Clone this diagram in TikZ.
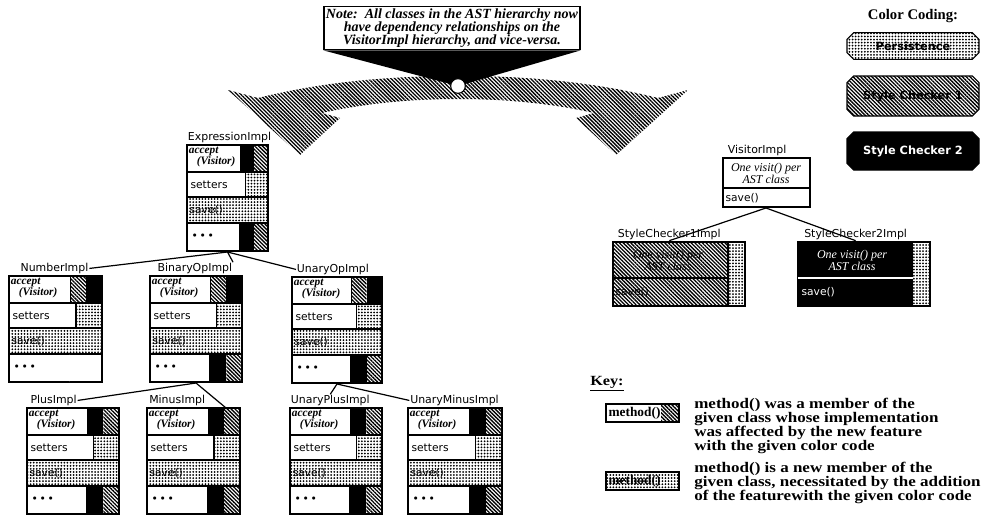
\documentclass[tikz,border=0pt]{standalone}
\usepackage{fontspec}
\setmainfont{Liberation Serif}
\setsansfont{DejaVu Sans}
\newfontfamily\keyfont{Liberation Serif}[FakeStretch=1.16]
\usetikzlibrary{patterns.meta, positioning, shapes.misc}
\tikzstyle{classlabel} = [font=\sffamily\fontsize{8.2}{9}\selectfont, inner sep=0.5pt]
\tikzstyle{rowtext} = [font=\sffamily\fontsize{8}{9}\selectfont, inner sep=1pt, anchor=west]
\tikzstyle{accepttext} = [font=\bfseries\itshape\fontsize{8.5}{8.5}\selectfont, align=left, inner sep=0.5pt, anchor=north west]
\tikzstyle{visittext} = [font=\itshape\fontsize{9}{9}\selectfont, align=center, inner sep=0pt]
\tikzstyle{persist} = [pattern={Dots[radius=0.75pt, distance=2.3pt]}]
\tikzstyle{scone} = [pattern={Lines[angle=-45, distance=2pt, line width=1pt]}]
\tikzstyle{sctwo} = [fill=black]
\tikzstyle{plain} = [fill=white, draw=none]
\tikzstyle{boxline} = [line width=0.9pt]
\tikzstyle{edge} = [line width=0.9pt]
\tikzstyle{badge} = [chamfered rectangle, chamfered rectangle sep=2.5pt, draw, line width=0.8pt,
  minimum width=99pt, font=\sffamily\bfseries\fontsize{8.5}{9}\selectfont]
\tikzstyle{keytext} = [font=\keyfont\bfseries\fontsize{11}{10.5}\selectfont, align=left, anchor=north west, inner sep=0pt]

% one class of the AST hierarchy: id, x, y, width, accept patches, ... patches
\newcommand{\classbox}[8]{%
  \begin{scope}[shift={(#2,#3)}]
    \fill[#5] ({0.66*#4},0) rectangle ({0.83*#4},27);
    \fill[#6] ({0.83*#4},0) rectangle (#4,27);
    \fill[persist] ({0.72*#4},27) rectangle (#4,52);
    \fill[persist] (0,52) rectangle (#4,78);
    \fill[#7] ({0.65*#4},78) rectangle ({0.83*#4},106);
    \fill[#8] ({0.83*#4},78) rectangle (#4,106);
    \draw[boxline] (0,0) rectangle (#4,106);
    \draw[boxline] (0,27) -- (#4,27) (0,52) -- (#4,52) (0,78) -- (#4,78);
    \draw[boxline] ({0.66*#4},0) -- ({0.66*#4},27) ({0.72*#4},27) -- ({0.72*#4},52);
    \draw[boxline, #7] ({0.65*#4},78) -- ({0.65*#4},106);
    \node[accepttext] (#1-accept) at (1,1) {accept\\\hspace{6pt}(Visitor)};
    \node[rowtext] (#1-setters) at (2,40) {setters};
    \node[rowtext] (#1-save) at (1,65) {save()};
    \node[rowtext] (#1-more) at (3,92) {\textbullet\,\textbullet\,\textbullet};
    \coordinate (#1-nw) at (0,0);
    \coordinate (#1-top) at ({0.85*#4},0);
    \coordinate (#1-s) at ({0.5*#4},107);
  \end{scope}}

\begin{document}
\begin{tikzpicture}[x=0.75pt, y=-0.75pt]
  \useasboundingbox (0,0) rectangle (985,521);

  % the two-way dependency arrow
  \fill[scone] (228,90) -- (258,98) .. controls (330,80) and (400,76) .. (458,76)
    .. controls (516,76) and (586,80) .. (658,98) -- (688,90) -- (616,155) -- (576,118)
    -- (594,113) .. controls (546,102) and (496,99) .. (458,99)
    .. controls (420,99) and (370,102) .. (322,113) -- (340,118) -- (300,155) -- cycle;
  \node[draw, line width=1pt, fill=white, inner sep=1.5pt, align=center,
    font=\bfseries\itshape\fontsize{10.5}{10}\selectfont] (note) at (452,28)
    {Note:\ \ All classes in the AST hierarchy now\\have dependency relationships on the\\VisitorImpl hierarchy, and vice-versa.};
  \coordinate (hubpt) at (458,86);
  \fill (note.south west) -- (note.south east) -- (hubpt) -- cycle;
  \node[circle, draw, fill=white, line width=0.8pt, minimum size=11pt, inner sep=0pt] (hub) at (hubpt) {};

  % AST hierarchy
  \classbox{expr}{187}{145}{81}{sctwo}{scone}{sctwo}{scone}
  \classbox{number}{9}{276}{93}{scone}{sctwo}{plain}{plain}
  \classbox{binop}{150}{276}{92}{scone}{sctwo}{sctwo}{scone}
  \classbox{unop}{292}{277}{90}{scone}{sctwo}{sctwo}{scone}
  \classbox{plus}{27}{408}{92}{sctwo}{scone}{sctwo}{scone}
  \classbox{minus}{147}{408}{93}{sctwo}{scone}{sctwo}{scone}
  \classbox{uplus}{290}{408}{92}{sctwo}{scone}{sctwo}{scone}
  \classbox{uminus}{408}{408}{94}{sctwo}{scone}{sctwo}{scone}

  \node[classlabel, above right=1pt and 0pt of expr-nw] (expr-label) {ExpressionImpl};
  \node[classlabel, above right=1pt and 8pt of number-nw] (number-label) {NumberImpl};
  \node[classlabel, above right=1pt and 5pt of binop-nw] (binop-label) {BinaryOpImpl};
  \node[classlabel, above right=1pt and 3pt of unop-nw] (unop-label) {UnaryOpImpl};
  \node[classlabel, above right=1pt and 2pt of plus-nw] (plus-label) {PlusImpl};
  \node[classlabel, above right=1pt and 1pt of minus-nw] (minus-label) {MinusImpl};
  \node[classlabel, above right=1pt and 0pt of uplus-nw] (uplus-label) {UnaryPlusImpl};
  \node[classlabel, above right=1pt and 1pt of uminus-nw] (uminus-label) {UnaryMinusImpl};

  \draw[edge] (expr-s) -- (number-label.east);
  \draw[edge] (expr-s) -- (binop-label.north east);
  \draw[edge] (expr-s) -- (unop-label.west);
  \draw[edge] (binop-s) -- (plus-label.east);
  \draw[edge] (binop-s) -- (minus-top);
  \draw[edge] (unop-s) -- (uplus-label.north);
  \draw[edge] (unop-s) -- (uminus-label.west);

  % Visitor hierarchy
  \draw[boxline] (723,158) rectangle (810,207);
  \draw[boxline] (723,188) -- (810,188);
  \coordinate (visitor-nw) at (723,158);
  \coordinate (visitor-s) at (766,208);
  \node[visittext] (visitor-visit) at (766,173) {One visit() per\\AST class};
  \node[rowtext] (visitor-save) at (724,198) {save()};
  \node[classlabel, above right=1pt and 3pt of visitor-nw] (visitor-label) {VisitorImpl};

  \fill[scone] (613,242) rectangle (728,306);
  \fill[persist] (728,242) rectangle (745,306);
  \draw[boxline] (613,242) rectangle (745,306);
  \draw[boxline] (613,278) -- (728,278) (728,242) -- (728,306);
  \coordinate (scone-nw) at (613,242);
  \node[visittext] (scone-visit) at (668,260) {One visit() per\\AST class};
  \node[rowtext] (scone-save) at (614,292) {save()};
  \node[classlabel, above right=1pt and 3pt of scone-nw] (scone-label) {StyleChecker1Impl};

  \fill[sctwo] (798,242) rectangle (913,306);
  \fill[persist] (913,242) rectangle (930,306);
  \draw[boxline] (798,242) rectangle (930,306);
  \draw[boxline, white] (798,278) -- (913,278);
  \coordinate (sctwo-nw) at (798,242);
  \node[visittext, text=white] (sctwo-visit) at (852,260) {One visit() per\\AST class};
  \node[rowtext, text=white] (sctwo-save) at (800,292) {save()};
  \node[classlabel, above right=1pt and 4pt of sctwo-nw] (sctwo-label) {StyleChecker2Impl};

  \draw[edge] (visitor-s) -- (scone-label.south);
  \draw[edge] (visitor-s) -- (sctwo-label.south);

  % colour coding
  \node[font=\bfseries\fontsize{11}{12}\selectfont] (coding) at (913,16) {Color Coding:};
  \node[badge, persist, minimum height=20pt] (persistence) at (913,46) {Persistence};
  \node[badge, scone, minimum height=30pt] (checker1) at (913,96) {Style Checker 1};
  \node[badge, fill=black, text=white, minimum height=28.5pt] (checker2) at (913,151) {Style Checker 2};

  % key
  \node[font=\keyfont\bfseries\fontsize{10.5}{11}\selectfont, anchor=west, inner sep=0pt] (key) at (590,384) {\underline{Key:}};
  \fill[scone] (661,404) rectangle (679,422);
  \draw[boxline] (606,404) rectangle (679,422);
  \node[font=\bfseries\fontsize{10}{11}\selectfont, anchor=west, inner sep=1pt] (key-changed) at (607,413) {method()};
  \fill[persist] (606,472) rectangle (679,490);
  \draw[boxline] (606,472) rectangle (679,490);
  \node[font=\bfseries\fontsize{10}{11}\selectfont, anchor=west, inner sep=1pt] (key-new) at (607,481) {method()};
  \node[keytext] (key-changed-text) at (694,398) {method() was a member of the\\given class whose implementation\\was affected by the new feature\\with the given color code};
  \node[keytext] (key-new-text) at (694,462) {method() is a new member of the\\given class, necessitated by the addition\\of the featurewith the given color code};
\end{tikzpicture}
\end{document}
